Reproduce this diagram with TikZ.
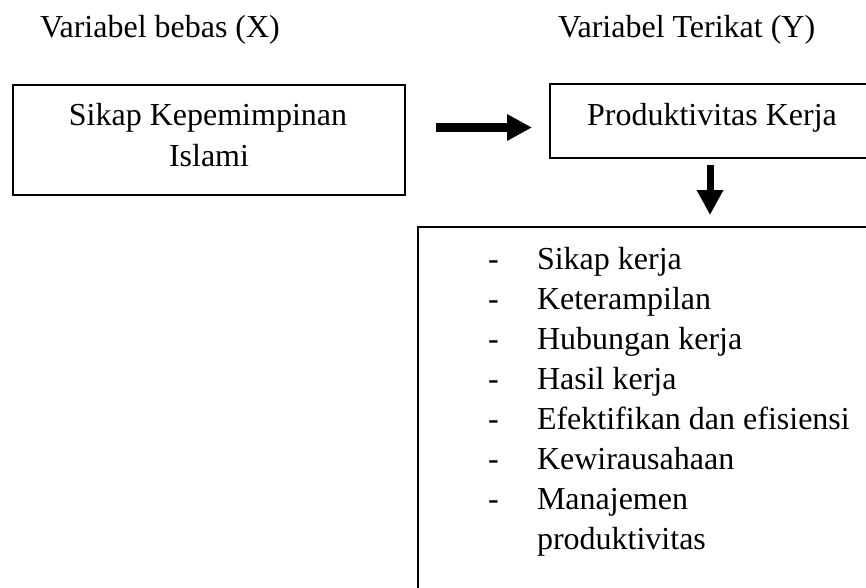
\documentclass[tikz,border=0pt]{standalone}
\usepackage{fontspec}
\setmainfont{Liberation Serif}
\usetikzlibrary{arrows.meta}
\begin{document}
\begin{tikzpicture}[x=1pt,y=-1pt,
  every node/.style={inner sep=0pt,outer sep=0pt},
  txt/.style={font=\fontsize{32}{40}\selectfont},
  boxnode/.style={draw=black,line width=1.8pt,rectangle},
  fatarrow/.style={-{Triangle[width=25pt,length=25pt]},line width=9pt},
  downarrow/.style={-{Triangle[width=25pt,length=25pt]},line width=7pt}]
\useasboundingbox (0,0) rectangle (866,587);
\clip (0,0) rectangle (866,587);
\fill[white] (0,0) rectangle (866,587);
% headers
\node[txt,anchor=base west] (hx) at (40,37) {Variabel bebas (X)};
\node[txt,anchor=base west] (hy) at (558,37) {Variabel Terikat (Y)};
% boxes
\node[boxnode,minimum width=392pt,minimum height=110pt] (box1) at (209,140) {};
\node[boxnode,minimum width=320pt,minimum height=74pt] (box2) at (710,121) {};
\node[boxnode,minimum width=584pt,minimum height=400pt] (box3) at (710,427) {};
% box texts
\node[txt,anchor=base] (t1a) at (208,125) {Sikap Kepemimpinan};
\node[txt,anchor=base] (t1b) at (209,166) {Islami};
\node[txt,anchor=base] (t2) at (712,125) {Produktivitas Kerja};
% list
\foreach \i/\t in {0/Sikap kerja,1/Keterampilan,2/Hubungan kerja,3/Hasil kerja,4/Efektifikan dan efisiensi,5/Kewirausahaan,6/Manajemen}{
  \node[txt,anchor=base west] (d\i) at (488,269+40*\i) {-};
  \node[txt,anchor=base west] (l\i) at (537,269+40*\i) {\t};
}
\node[txt,anchor=base west] (l7) at (537,549) {produktivitas};
% arrows
\path (box1.east) ++(31,-12.5) coordinate (r1);
\draw[fatarrow,shorten >=18pt] (r1) -- (box2.west |- r1);
\draw[downarrow,shorten <=7pt,shorten >=12pt] (box2.south) -- (box3.north);
\end{tikzpicture}
\end{document}
